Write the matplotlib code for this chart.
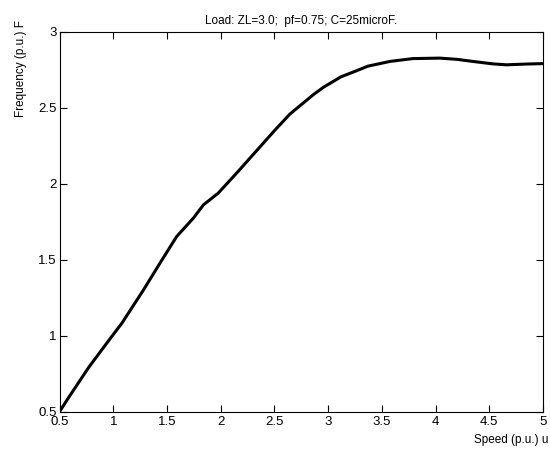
import matplotlib

matplotlib.use("Agg")
import matplotlib.pyplot as plt

# speed (p.u.) vs frequency (p.u.)
speed = [0.5, 0.58, 0.77, 0.985, 1.08, 1.28, 1.435, 1.59, 1.745, 1.84,
         1.977, 2.16, 2.33, 2.50, 2.645, 2.86, 2.954, 3.12, 3.265, 3.37,
         3.574, 3.79, 4.04, 4.20, 4.35, 4.535, 4.66, 4.846, 5.0]
freq = [0.5, 0.588, 0.79, 0.994, 1.082, 1.30, 1.478, 1.653, 1.774, 1.862,
        1.939, 2.08, 2.215, 2.35, 2.46, 2.586, 2.635, 2.705, 2.745, 2.775,
        2.806, 2.825, 2.828, 2.82, 2.806, 2.79, 2.784, 2.789, 2.792]
xticks = [0.5, 1, 1.5, 2, 2.5, 3, 3.5, 4, 4.5, 5]
yticks = [0.5, 1, 1.5, 2, 2.5, 3]

plt.rcParams["font.family"] = ["Liberation Sans", "DejaVu Sans"]

fig = plt.figure(figsize=(5.5, 4.53), dpi=100)
W, H = 550, 453
left, right, top, bottom = 59.5, 543, 32, 411.7
ax = fig.add_axes([left / W, 1 - bottom / H, (right - left) / W, (bottom - top) / H])

ax.plot(speed, freq, color="black", linewidth=2.2, solid_joinstyle="round")

ax.set_xlim(0.5, 5)
ax.set_ylim(0.5, 3)
ax.set_xticks(xticks)
ax.set_xticklabels([f"{t:g}" for t in xticks])
ax.set_yticks(yticks)
ax.set_yticklabels([f"{t:g}" for t in yticks])
ax.tick_params(direction="in", length=5, width=0.8, top=True, right=True,
               labelsize=9.5, colors="black", pad=2)
ax.tick_params(axis="x", pad=3)
for s in ax.spines.values():
    s.set_linewidth(0.8)

ax.set_title("Load: ZL=3.0;  pf=0.75; C=25microF.", fontsize=8.5, pad=6)
fig.text(548 / W, 1 - 440 / H, "Speed (p.u.) u", fontsize=8.5,
         ha="right", va="center")
fig.text(21 / W, 1 - 20 / H, "Frequency (p.u.) F", fontsize=8.5,
         rotation=90, ha="center", va="top")

fig.savefig("out.png", dpi=100)
